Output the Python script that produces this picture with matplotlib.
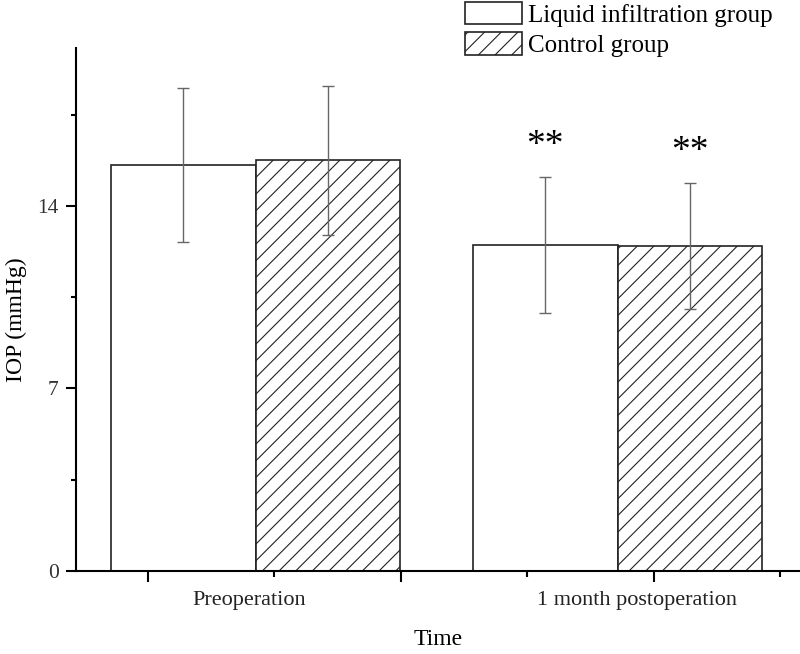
import numpy as np
import matplotlib
matplotlib.use("Agg")
import matplotlib.pyplot as plt

# data
groups = ["Preoperation", "1 month postoperation"]
liquid_mean = [15.57, 12.51]
liquid_err = [2.95, 2.61]
control_mean = [15.76, 12.48]
control_err = [2.87, 2.42]
stars = ["", "**"]

plt.rcParams["font.family"] = ["Liberation Serif", "DejaVu Serif"]
plt.rcParams["hatch.linewidth"] = 0.8
plt.rcParams["hatch.color"] = "#333333"

fig = plt.figure(figsize=(8, 6.54), dpi=100)
ax = fig.add_axes([0.095, 0.1274, 0.905, 0.7992])

x = np.arange(len(groups))
w = 0.4
ax.bar(x - w/2, liquid_mean, w, color="white", edgecolor="#222222", linewidth=1.2,
       label="Liquid infiltration group", zorder=2)
ax.bar(x + w/2, control_mean, w, color="white", edgecolor="#222222", linewidth=1.2,
       hatch="//", label="Control group", zorder=2)
ax.errorbar(x - w/2, liquid_mean, yerr=liquid_err, fmt="none", ecolor="#666666",
            elinewidth=1, capsize=4, capthick=1, zorder=3)
ax.errorbar(x + w/2, control_mean, yerr=control_err, fmt="none", ecolor="#666666",
            elinewidth=1, capsize=4, capthick=1, zorder=3)

# significance marks
for i in range(len(groups)):
    if stars[i]:
        ax.text(x[i] - w/2, liquid_mean[i] + liquid_err[i] + 0.85, stars[i],
                ha="center", va="baseline", fontsize=27)
        ax.text(x[i] + w/2, control_mean[i] + control_err[i] + 0.85, stars[i],
                ha="center", va="baseline", fontsize=27)

ax.set_xlim(-0.496, 1.504)
ax.set_ylim(0, 20.07)
ax.set_yticks([0, 7, 14])
ax.set_yticks([3.5, 10.5, 17.5], minor=True)
ax.set_xticks([-0.297, 0.402, 1.101])
ax.set_xticks([0.051, 0.750, 1.449], minor=True)
ax.set_xticklabels([])
ax.tick_params(axis="y", which="major", length=7, width=1.5, pad=5.5, labelsize=15.5,
               labelcolor="#333333")
ax.tick_params(axis="y", which="minor", length=3.6, width=1.5)
ax.tick_params(axis="x", which="major", length=8, width=1.5)
ax.tick_params(axis="x", which="minor", length=4.5, width=1.5)

for s in ["top", "right"]:
    ax.spines[s].set_visible(False)
for s in ["left", "bottom"]:
    ax.spines[s].set_linewidth(1.5)

# category labels
label_x = [-0.017, 1.055]
for lx, g in zip(label_x, groups):
    ax.text(lx, -0.058, g, transform=ax.get_xaxis_transform(), ha="center", va="center",
            fontsize=16, color="#222222")

ax.set_xlabel("Time", fontsize=17, va="center")
ax.xaxis.set_label_coords(0.5, -0.1326)
ax.set_ylabel("IOP (mmHg)", fontsize=17, va="center")
ax.yaxis.set_label_coords(-0.083, 0.48)

fig.legend(loc="upper left", bbox_to_anchor=(465/800, 1 - 2/654), frameon=False, fontsize=18,
           handlelength=2.28, handleheight=1.0, handletextpad=0.25, labelspacing=0.22,
           borderpad=0.0, borderaxespad=0.0)

fig.savefig("out.png", dpi=100)
